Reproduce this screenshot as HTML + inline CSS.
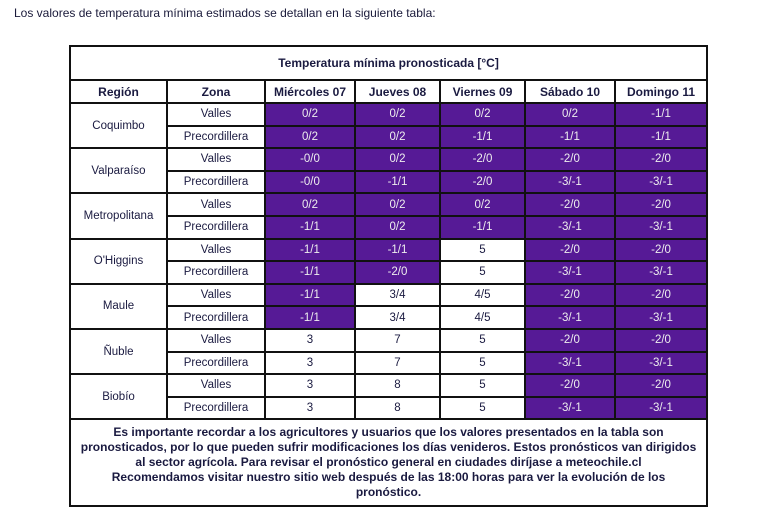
<!DOCTYPE html>
<html><head><meta charset="utf-8"><style>
body{margin:0;background:#fff;width:767px;height:519px;overflow:hidden;font-family:"Liberation Sans",sans-serif;}
.intro{position:absolute;left:14px;top:6px;font-size:12px;color:#1a1a3a;}
table{position:absolute;left:69px;top:45px;border-collapse:collapse;table-layout:fixed;width:637px;}
td{border:2px solid #111;text-align:center;font-size:11.5px;color:#1a1a40;padding:0;height:20.6px;}
.t{height:32px;font-weight:bold;font-size:12px;}
.h td{font-weight:bold;font-size:12px;height:21px;}
.p{background:#561a96;color:#eee;}
.f{font-weight:bold;font-size:12px;height:85px;line-height:15px;}
</style></head><body>
<div class="intro">Los valores de temperatura mínima estimados se detallan en la siguiente tabla:</div>
<table>
<colgroup><col style="width:97px"><col style="width:98px"><col style="width:90px"><col style="width:85px"><col style="width:85px"><col style="width:90px"><col style="width:92px"></colgroup>
<tr><td class="t" colspan="7">Temperatura mínima pronosticada [°C]</td></tr>
<tr class="h"><td>Región</td><td>Zona</td><td>Miércoles 07</td><td>Jueves 08</td><td>Viernes 09</td><td>Sábado 10</td><td>Domingo 11</td></tr>
<tr><td rowspan="2">Coquimbo</td><td>Valles</td><td class="p">0/2</td><td class="p">0/2</td><td class="p">0/2</td><td class="p">0/2</td><td class="p">-1/1</td></tr>
<tr><td>Precordillera</td><td class="p">0/2</td><td class="p">0/2</td><td class="p">-1/1</td><td class="p">-1/1</td><td class="p">-1/1</td></tr>
<tr><td rowspan="2">Valparaíso</td><td>Valles</td><td class="p">-0/0</td><td class="p">0/2</td><td class="p">-2/0</td><td class="p">-2/0</td><td class="p">-2/0</td></tr>
<tr><td>Precordillera</td><td class="p">-0/0</td><td class="p">-1/1</td><td class="p">-2/0</td><td class="p">-3/-1</td><td class="p">-3/-1</td></tr>
<tr><td rowspan="2">Metropolitana</td><td>Valles</td><td class="p">0/2</td><td class="p">0/2</td><td class="p">0/2</td><td class="p">-2/0</td><td class="p">-2/0</td></tr>
<tr><td>Precordillera</td><td class="p">-1/1</td><td class="p">0/2</td><td class="p">-1/1</td><td class="p">-3/-1</td><td class="p">-3/-1</td></tr>
<tr><td rowspan="2">O'Higgins</td><td>Valles</td><td class="p">-1/1</td><td class="p">-1/1</td><td>5</td><td class="p">-2/0</td><td class="p">-2/0</td></tr>
<tr><td>Precordillera</td><td class="p">-1/1</td><td class="p">-2/0</td><td>5</td><td class="p">-3/-1</td><td class="p">-3/-1</td></tr>
<tr><td rowspan="2">Maule</td><td>Valles</td><td class="p">-1/1</td><td>3/4</td><td>4/5</td><td class="p">-2/0</td><td class="p">-2/0</td></tr>
<tr><td>Precordillera</td><td class="p">-1/1</td><td>3/4</td><td>4/5</td><td class="p">-3/-1</td><td class="p">-3/-1</td></tr>
<tr><td rowspan="2">Ñuble</td><td>Valles</td><td>3</td><td>7</td><td>5</td><td class="p">-2/0</td><td class="p">-2/0</td></tr>
<tr><td>Precordillera</td><td>3</td><td>7</td><td>5</td><td class="p">-3/-1</td><td class="p">-3/-1</td></tr>
<tr><td rowspan="2">Biobío</td><td>Valles</td><td>3</td><td>8</td><td>5</td><td class="p">-2/0</td><td class="p">-2/0</td></tr>
<tr><td>Precordillera</td><td>3</td><td>8</td><td>5</td><td class="p">-3/-1</td><td class="p">-3/-1</td></tr>
<tr><td class="f" colspan="7">Es importante recordar a los agricultores y usuarios que los valores presentados en la tabla son<br>pronosticados, por lo que pueden sufrir modificaciones los días venideros. Estos pronósticos van dirigidos<br>al sector agrícola. Para revisar el pronóstico general en ciudades diríjase a meteochile.cl<br>Recomendamos visitar nuestro sitio web después de las 18:00 horas para ver la evolución de los<br>pronóstico.</td></tr>
</table>
</body></html>
